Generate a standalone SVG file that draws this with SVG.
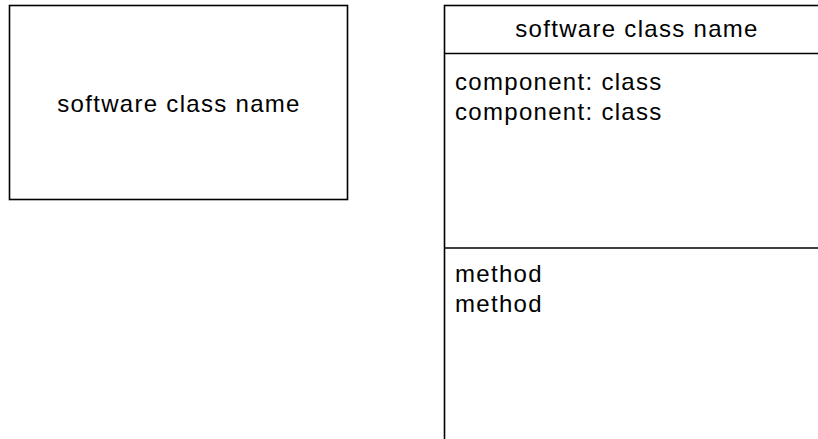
<svg xmlns="http://www.w3.org/2000/svg" width="818" height="439" viewBox="0 0 818 439">
  <style>
    .box { fill: #ffffff; stroke: #000000; stroke-width: 1.6; }
    .rule { stroke: #000000; stroke-width: 1.6; fill: none; }
    .label { font-family: "Liberation Sans", Arial, sans-serif; font-size: 24px; letter-spacing: 1.3px; fill: #000000; }
    .mid { text-anchor: middle; }
  </style>
  <rect x="0" y="0" width="818" height="439" fill="#ffffff"/>

  <!-- class shown as a simple name box -->
  <g id="class-simple">
    <rect class="box" x="9.5" y="5.5" width="338" height="194"/>
    <text class="label mid" x="179" y="112">software class name</text>
  </g>

  <!-- class with attribute and method compartments -->
  <g id="class-detailed">
    <rect class="box" x="444.5" y="5.5" width="384" height="460"/>
    <line class="rule" x1="444.5" y1="53.5" x2="830" y2="53.5"/>
    <line class="rule" x1="444.5" y1="248" x2="830" y2="248"/>
    <text class="label mid" x="637" y="37">software class name</text>
    <text class="label" x="455" y="90">component: class</text>
    <text class="label" x="455" y="119.5">component: class</text>
    <text class="label" x="455" y="281.5">method</text>
    <text class="label" x="455" y="311.5">method</text>
  </g>

  <g id="connectors"></g>
</svg>
